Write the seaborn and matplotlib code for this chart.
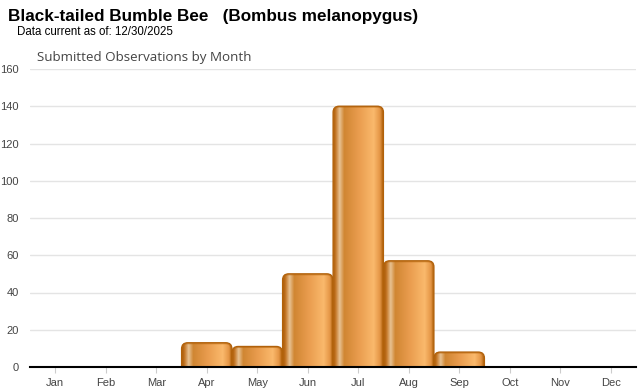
import numpy as np
import pandas as pd
import matplotlib
matplotlib.use("Agg")
import matplotlib.pyplot as plt
from matplotlib.colors import LinearSegmentedColormap
from matplotlib.patches import FancyBboxPatch
import seaborn as sns

months = ["Jan", "Feb", "Mar", "Apr", "May", "Jun", "Jul", "Aug", "Sep", "Oct", "Nov", "Dec"]
observations = [0, 0, 0, 13, 11, 50, 140, 57, 8, 0, 0, 0]
y_ticks = [0, 20, 40, 60, 80, 100, 120, 140, 160]

sns.set_theme(style="white")
plt.rcParams["font.family"] = ["Liberation Sans", "DejaVu Sans"]

df = pd.DataFrame({"Month": months, "Count": observations})

fig = plt.figure(figsize=(6.4, 3.9), dpi=100)
ax = fig.add_axes([30 / 640, 1 - 367 / 390, 606 / 640, (367 - 69) / 390])

sns.barplot(data=df, x="Month", y="Count", color="#d98c3a", width=0.995, ax=ax, zorder=2)

# bar gradient: dark edge, pale streak, mid orange, light orange, dark edge
grad = LinearSegmentedColormap.from_list("bee", [
    (0.0, "#a85a08"), (0.05, "#c47626"), (0.13, "#e8c292"), (0.22, "#d08632"),
    (0.5, "#e99c4e"), (0.8, "#fab96c"), (0.92, "#e59646"), (1.0, "#a85a08")])
strip = np.linspace(0, 1, 256).reshape(1, -1)

ax.set_xlim(-0.5, 11.5)
ax.set_ylim(0, 160)
aspect = (160 / 298) / (12 / 606)

for p in list(ax.patches):
    x, w, h = p.get_x(), p.get_width(), p.get_height()
    p.remove()
    if h <= 0:
        continue
    box = FancyBboxPatch((x, -3), w, h + 3, boxstyle="round,pad=0,rounding_size=0.12",
                         mutation_aspect=aspect, facecolor="none",
                         edgecolor="#b0600a", linewidth=1.0, zorder=4)
    ax.add_patch(box)
    im = ax.imshow(strip, cmap=grad, extent=(x, x + w, 0, h), aspect="auto", zorder=3)
    im.set_clip_path(box)
    # darker band along the rounded top
    top = FancyBboxPatch((x, -3), w, h + 3, boxstyle="round,pad=0,rounding_size=0.12",
                         mutation_aspect=aspect, facecolor="none",
                         edgecolor="#b8680f", linewidth=2.2, alpha=0.5, zorder=4)
    ax.add_patch(top)
    top.set_clip_path(box)

ax.set_xlim(-0.5, 11.5)
ax.set_ylim(0, 160)
ax.set_yticks(y_ticks)
ax.yaxis.grid(True, color="#e4e4e4", linewidth=1)
ax.set_axisbelow(True)
for s in ["top", "right", "left"]:
    ax.spines[s].set_visible(False)
ax.spines["bottom"].set_color("#000000")
ax.spines["bottom"].set_linewidth(1.5)
ax.spines["bottom"].set_zorder(5)
ax.tick_params(axis="y", length=0, pad=8, labelsize=8, labelcolor="#444444")
ax.tick_params(axis="x", length=4, width=0.8, color="#cccccc", pad=4, labelsize=8, labelcolor="#444444", bottom=True)
ax.set_xlabel("")
ax.set_ylabel("")

fig.text(8 / 640, 1 - 16 / 390, "Black-tailed Bumble Bee   (Bombus melanopygus)",
         fontsize=12.3, fontweight="bold", color="#000000", va="center")
fig.text(17 / 640, 1 - 32 / 390, "Data current as of: 12/30/2025",
         fontsize=8.3, color="#000000", va="center")
fig.text(37 / 640, 1 - 58 / 390, "Submitted Observations by Month",
         fontsize=9.6, color="#444444", va="center", family=["Open Sans", "DejaVu Sans"])

fig.savefig("out.png", dpi=100)
